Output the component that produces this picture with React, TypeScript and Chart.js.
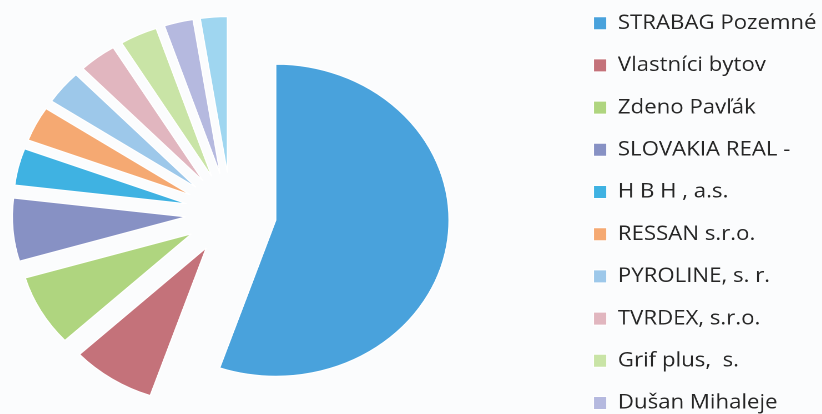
import React, { useEffect, useRef, useMemo } from "react";
import { Chart, registerables } from "chart.js";

Chart.register(...registerables);

const labels = [
  "STRABAG Pozemné",
  "Vlastníci bytov",
  "Zdeno Pavľák",
  "SLOVAKIA REAL -",
  "H B H , a.s.",
  "RESSAN s.r.o.",
  "PYROLINE, s. r.",
  "TVRDEX, s.r.o.",
  "Grif plus,  s.",
  "Dušan Mihaleje",
  "Ostatní",
];

const shares = [55.3, 7.8, 7.4, 6.5, 3.8, 3.6, 3.5, 3.5, 3.5, 2.7, 2.5];

const sliceColors = [
  "#49a2dc",
  "#c4727a",
  "#afd57f",
  "#8791c4",
  "#3fb2e2",
  "#f5a972",
  "#9dc8ea",
  "#e1b6bf",
  "#c9e4a6",
  "#b5b9df",
  "#9fd6f0",
];

const VISIBLE_LEGEND_ITEMS = 10;

// The scanned reference is stretched horizontally; reproduce that aspect.
const STRETCH_X = 1.11;

const FONT_FAMILY = '"Open Sans", "DejaVu Sans", sans-serif';
const FONT_SIZE = 20;
const LEGEND_PAD = 22.2;
const BOX_W = 12;
const BOX_H = 13;
const CANVAS_H = 445;
const CANVAS_LEFT = -107;
const CANVAS_TOP = -9;
const LEGEND_LEFT_IN_CANVAS = 608.8;
const PIE_RADIUS = 156;
const EXPLODE = 41;

function measureLegendWidth(): number {
  const c = document.createElement("canvas");
  const ctx = c.getContext("2d");
  let max = 0;
  if (ctx) {
    ctx.font = `${FONT_SIZE}px ${FONT_FAMILY}`;
    labels.slice(0, VISIBLE_LEGEND_ITEMS).forEach((t) => {
      max = Math.max(max, ctx.measureText(t).width);
    });
  }
  return LEGEND_PAD + BOX_W + FONT_SIZE / 2 + max + 10;
}

// Moves every slice outward along its own bisector (classic "exploded" pie).
const explodePlugin = {
  id: "explodeSlices",
  afterDatasetsUpdate(chart: any) {
    chart.getSortedVisibleDatasetMetas().forEach((meta: any) => {
      meta.data.forEach((arc: any) => {
        const mid = (arc.startAngle + arc.endAngle) / 2;
        arc.x += Math.cos(mid) * EXPLODE;
        arc.y += Math.sin(mid) * EXPLODE;
      });
    });
  },
};

export default function App() {
  const ref = useRef<HTMLCanvasElement | null>(null);
  const canvasW = useMemo(() => Math.round(LEGEND_LEFT_IN_CANVAS + measureLegendWidth()), []);

  useEffect(() => {
    if (!ref.current) return;
    const chart = new Chart(ref.current, {
      type: "pie",
      data: {
        labels,
        datasets: [
          {
            data: shares,
            backgroundColor: sliceColors,
            borderColor: "#ffffff",
            borderWidth: 1,
            offset: 0,
            hoverOffset: 0,
            radius: PIE_RADIUS,
          } as any,
        ],
      },
      options: {
        animation: false,
        responsive: true,
        maintainAspectRatio: false,
        devicePixelRatio: 2,
        layout: { padding: 0 },
        plugins: {
          tooltip: { enabled: false },
          legend: {
            position: "right",
            align: "start",
            labels: {
              boxWidth: BOX_W,
              boxHeight: BOX_H,
              padding: LEGEND_PAD,
              color: "#262626",
              font: { family: FONT_FAMILY, size: FONT_SIZE },
              filter: (item: any) => item.index < VISIBLE_LEGEND_ITEMS,
            },
          },
        },
      },
      plugins: [explodePlugin],
    });
    return () => chart.destroy();
  }, []);

  return (
    <div
      style={{
        position: "absolute",
        left: 0,
        top: 0,
        width: 822,
        height: 414,
        overflow: "hidden",
        background: "#fbfcfd",
      }}
    >
      <div
        style={{
          position: "absolute",
          left: CANVAS_LEFT,
          top: CANVAS_TOP,
          width: canvasW,
          height: CANVAS_H,
          transform: `scaleX(${STRETCH_X})`,
          transformOrigin: "0 0",
        }}
      >
        <canvas ref={ref} />
      </div>
    </div>
  );
}
